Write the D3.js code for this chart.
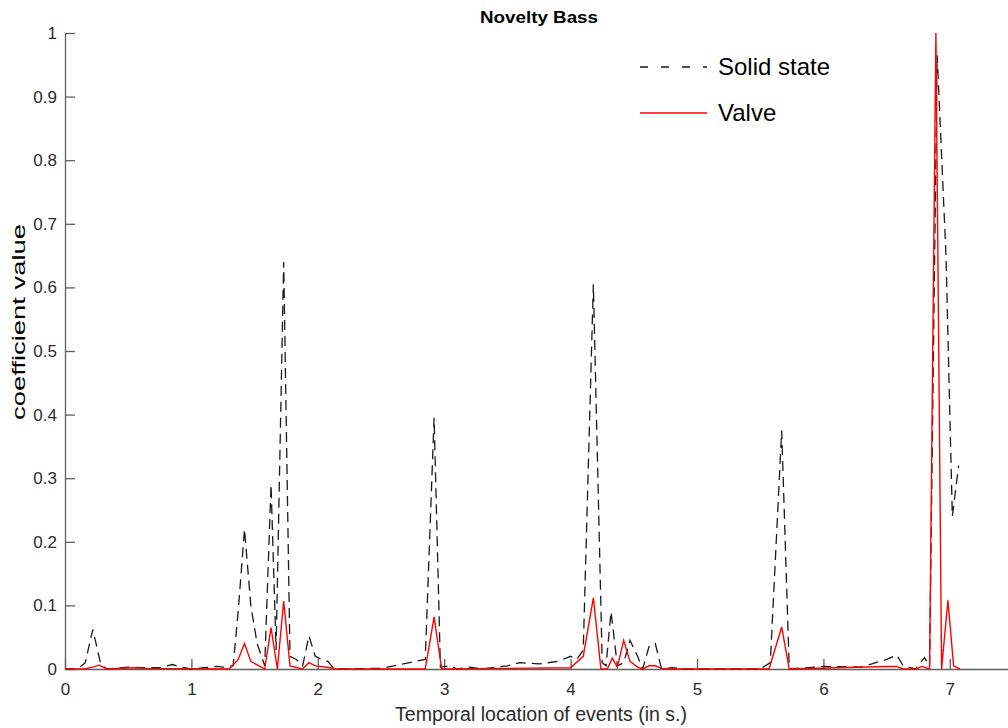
<!DOCTYPE html>
<html>
<head>
<meta charset="utf-8">
<script src="https://cdn.jsdelivr.net/npm/d3@7"></script>
<style>
  html, body { margin: 0; padding: 0; background: #fff; }
  svg { display: block; font-family: "Liberation Sans", Arial, sans-serif; }
</style>
</head>
<body>
<svg id="chart" width="1008" height="728"></svg>
<script>
// ---- data ----
const solidTimes = [0, 0.10, 0.16, 0.22, 0.28, 0.33, 0.50, 0.60, 0.75, 0.85, 0.92, 1.00, 1.10, 1.20, 1.25, 1.33,
  1.37, 1.42, 1.47, 1.52, 1.58, 1.63, 1.67, 1.73, 1.78, 1.83, 1.88, 1.93, 1.98, 2.03, 2.08, 2.13,
  2.50, 2.85, 2.92, 2.97, 3.05, 3.10, 3.20, 3.30, 3.50, 3.60, 3.75, 3.90, 4.00, 4.05, 4.10, 4.18,
  4.25, 4.28, 4.32, 4.37, 4.42, 4.47, 4.53, 4.57, 4.62, 4.67, 4.72, 4.80, 4.90, 5.50, 5.58, 5.67,
  5.73, 6.00, 6.30, 6.50, 6.58, 6.63, 6.73, 6.80, 6.84, 6.90, 6.97, 7.02, 7.07];
const solidValues = [0, 0, 0.010, 0.062, 0.010, 0, 0.003, 0.002, 0.002, 0.007, 0.003, 0, 0.002, 0.004, 0.003, 0.005,
  0.090, 0.220, 0.100, 0.040, 0.005, 0.290, 0.030, 0.640, 0.020, 0.015, 0.005, 0.052, 0.020, 0.015, 0.012, 0,
  0.001, 0.015, 0.395, 0.003, 0.005, 0, 0.003, 0, 0.005, 0.010, 0.008, 0.012, 0.020, 0.015, 0.030, 0.605,
  0.010, 0.005, 0.090, 0.005, 0.010, 0.045, 0.020, 0, 0.035, 0.040, 0, 0.002, 0, 0, 0.010, 0.375,
  0, 0.004, 0.003, 0.015, 0.022, 0.005, 0, 0.018, 0.005, 0.965, 0.650, 0.240, 0.320];

const valveTimes = [0, 0.15, 0.22, 0.27, 0.33, 0.55, 0.65, 1.30, 1.37, 1.42, 1.47, 1.58, 1.63, 1.68, 1.73, 1.78,
  1.88, 1.93, 1.98, 2.10, 2.15, 2.85, 2.92, 2.98, 3.50, 4.00, 4.10, 4.18, 4.24, 4.29, 4.33, 4.37,
  4.42, 4.47, 4.53, 4.57, 4.62, 4.67, 4.72, 4.80, 5.57, 5.67, 5.73, 6.50, 6.58, 6.63, 6.73, 6.78,
  6.84, 6.89, 6.935, 6.985, 7.03, 7.08];
const valveValues = [0, 0, 0.003, 0.006, 0, 0.002, 0.001, 0, 0.015, 0.040, 0.012, 0, 0.065, 0, 0.107, 0.005,
  0, 0.010, 0.005, 0.002, 0, 0, 0.082, 0, 0.001, 0.002, 0.020, 0.112, 0, 0, 0.017, 0.003,
  0.045, 0.012, 0.003, 0, 0.005, 0.005, 0.001, 0, 0, 0.066, 0, 0.004, 0.004, 0, 0, 0.004,
  0, 1.000, 0, 0.108, 0.005, 0];

const xTicks = [0, 1, 2, 3, 4, 5, 6, 7];
const yTicks = [0, 0.1, 0.2, 0.3, 0.4, 0.5, 0.6, 0.7, 0.8, 0.9, 1];
const seriesNames = ["Solid state", "Valve"];
const titleText = "Novelty Bass";
const xLabel = "Temporal location of events (in s.)";
const yLabel = "coefficient value";

// ---- drawing ----
const svg = d3.select("#chart");
const x = d3.scaleLinear().domain([0, 7.5]).range([65, 1013]);
const y = d3.scaleLinear().domain([0, 1]).range([669, 33]);
const axisColor = "#5e5e5e";
const textColor = "#2b2b2b";

// y axis (ticks inward)
const yAxis = svg.append("g").attr("transform", `translate(${x(0)},0)`)
  .call(d3.axisLeft(y).tickValues(yTicks).tickSizeInner(-10).tickSizeOuter(0).tickPadding(8)
    .tickFormat(d => d === 0 ? "0" : d === 1 ? "1" : d3.format(".1f")(d)));
yAxis.select(".domain").attr("stroke", axisColor).attr("stroke-width", 1.3);
yAxis.selectAll(".tick line").attr("stroke", axisColor).attr("stroke-width", 1.3);
yAxis.selectAll(".tick text").attr("fill", textColor).style("font-size", "17px");

// x axis (ticks inward)
const xAxis = svg.append("g").attr("transform", `translate(0,${y(0)})`)
  .call(d3.axisBottom(x).tickValues(xTicks).tickSizeInner(-10).tickSizeOuter(0).tickPadding(14)
    .tickFormat(d3.format("d")));
xAxis.select(".domain").attr("stroke", axisColor).attr("stroke-width", 1.3);
xAxis.selectAll(".tick line").attr("stroke", axisColor).attr("stroke-width", 1.3);
xAxis.selectAll(".tick text").attr("fill", textColor).style("font-size", "17px");

// lines
const solidData = solidTimes.map((t, i) => [t, solidValues[i]]);
const valveData = valveTimes.map((t, i) => [t, valveValues[i]]);
const line = d3.line().x(d => x(d[0])).y(d => y(d[1]));

svg.append("path").datum(solidData)
  .attr("d", line).attr("fill", "none").attr("stroke", "#1a1a1a")
  .attr("stroke-width", 1.3).attr("stroke-dasharray", "10,6");
svg.append("path").datum(valveData)
  .attr("d", line).attr("fill", "none").attr("stroke", "#ff0000")
  .attr("stroke-width", 1.4).attr("stroke-linejoin", "miter");

// title & labels
svg.append("text").attr("x", 539).attr("y", 23).attr("text-anchor", "middle")
  .style("font-size", "17px").style("font-weight", "bold").attr("fill", "#000")
  .attr("textLength", 118).attr("lengthAdjust", "spacingAndGlyphs").text(titleText);
svg.append("text").attr("x", 541).attr("y", 721).attr("text-anchor", "middle")
  .style("font-size", "20px").attr("fill", textColor)
  .attr("textLength", 292).attr("lengthAdjust", "spacingAndGlyphs").text(xLabel);
svg.append("text").attr("transform", "translate(25,322) rotate(-90)").attr("text-anchor", "middle")
  .style("font-size", "18px").attr("fill", "#000")
  .attr("textLength", 196).attr("lengthAdjust", "spacingAndGlyphs").text(yLabel);

// legend
const legend = svg.append("g");
const legendY = [67, 113];
const legendStyles = [{ stroke: "#1a1a1a", dash: "8,13" }, { stroke: "#ff0000", dash: null }];
seriesNames.forEach((name, i) => {
  legend.append("line").attr("x1", 640).attr("x2", 707).attr("y1", legendY[i]).attr("y2", legendY[i])
    .attr("stroke", legendStyles[i].stroke).attr("stroke-width", 1.3)
    .attr("stroke-dasharray", legendStyles[i].dash);
  legend.append("text").attr("x", 718).attr("y", legendY[i] + 8)
    .style("font-size", "24px").attr("fill", "#000").text(name);
});
</script>
</body>
</html>
